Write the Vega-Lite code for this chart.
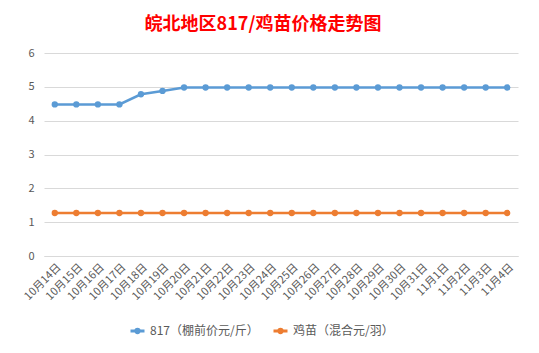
{
  "$schema": "https://vega.github.io/schema/vega-lite/v6.json",
  "autosize": {"type": "none"},
  "width": 474,
  "height": 203,
  "padding": {"left": 44, "top": 53, "right": 21, "bottom": 97},
  "background": "white",
  "config": {
    "font": "Noto Sans CJK SC",
    "view": {"stroke": null}
  },
  "title": {
    "text": "皖北地区817/鸡苗价格走势图",
    "color": "#ff0000",
    "fontSize": 18,
    "fontWeight": "bold",
    "font": "Noto Sans CJK SC",
    "anchor": "middle",
    "dx": -18,
    "offset": 13
  },
  "data": {
    "values": [
      {"date": "10月14日", "series": "817（棚前价元/斤）", "price": 4.48},
      {"date": "10月15日", "series": "817（棚前价元/斤）", "price": 4.48},
      {"date": "10月16日", "series": "817（棚前价元/斤）", "price": 4.48},
      {"date": "10月17日", "series": "817（棚前价元/斤）", "price": 4.48},
      {"date": "10月18日", "series": "817（棚前价元/斤）", "price": 4.78},
      {"date": "10月19日", "series": "817（棚前价元/斤）", "price": 4.88},
      {"date": "10月20日", "series": "817（棚前价元/斤）", "price": 4.98},
      {"date": "10月21日", "series": "817（棚前价元/斤）", "price": 4.98},
      {"date": "10月22日", "series": "817（棚前价元/斤）", "price": 4.98},
      {"date": "10月23日", "series": "817（棚前价元/斤）", "price": 4.98},
      {"date": "10月24日", "series": "817（棚前价元/斤）", "price": 4.98},
      {"date": "10月25日", "series": "817（棚前价元/斤）", "price": 4.98},
      {"date": "10月26日", "series": "817（棚前价元/斤）", "price": 4.98},
      {"date": "10月27日", "series": "817（棚前价元/斤）", "price": 4.98},
      {"date": "10月28日", "series": "817（棚前价元/斤）", "price": 4.98},
      {"date": "10月29日", "series": "817（棚前价元/斤）", "price": 4.98},
      {"date": "10月30日", "series": "817（棚前价元/斤）", "price": 4.98},
      {"date": "10月31日", "series": "817（棚前价元/斤）", "price": 4.98},
      {"date": "11月1日", "series": "817（棚前价元/斤）", "price": 4.98},
      {"date": "11月2日", "series": "817（棚前价元/斤）", "price": 4.98},
      {"date": "11月3日", "series": "817（棚前价元/斤）", "price": 4.98},
      {"date": "11月4日", "series": "817（棚前价元/斤）", "price": 4.98},
      {"date": "10月14日", "series": "鸡苗（混合元/羽）", "price": 1.27},
      {"date": "10月15日", "series": "鸡苗（混合元/羽）", "price": 1.27},
      {"date": "10月16日", "series": "鸡苗（混合元/羽）", "price": 1.27},
      {"date": "10月17日", "series": "鸡苗（混合元/羽）", "price": 1.27},
      {"date": "10月18日", "series": "鸡苗（混合元/羽）", "price": 1.27},
      {"date": "10月19日", "series": "鸡苗（混合元/羽）", "price": 1.27},
      {"date": "10月20日", "series": "鸡苗（混合元/羽）", "price": 1.27},
      {"date": "10月21日", "series": "鸡苗（混合元/羽）", "price": 1.27},
      {"date": "10月22日", "series": "鸡苗（混合元/羽）", "price": 1.27},
      {"date": "10月23日", "series": "鸡苗（混合元/羽）", "price": 1.27},
      {"date": "10月24日", "series": "鸡苗（混合元/羽）", "price": 1.27},
      {"date": "10月25日", "series": "鸡苗（混合元/羽）", "price": 1.27},
      {"date": "10月26日", "series": "鸡苗（混合元/羽）", "price": 1.27},
      {"date": "10月27日", "series": "鸡苗（混合元/羽）", "price": 1.27},
      {"date": "10月28日", "series": "鸡苗（混合元/羽）", "price": 1.27},
      {"date": "10月29日", "series": "鸡苗（混合元/羽）", "price": 1.27},
      {"date": "10月30日", "series": "鸡苗（混合元/羽）", "price": 1.27},
      {"date": "10月31日", "series": "鸡苗（混合元/羽）", "price": 1.27},
      {"date": "11月1日", "series": "鸡苗（混合元/羽）", "price": 1.27},
      {"date": "11月2日", "series": "鸡苗（混合元/羽）", "price": 1.27},
      {"date": "11月3日", "series": "鸡苗（混合元/羽）", "price": 1.27},
      {"date": "11月4日", "series": "鸡苗（混合元/羽）", "price": 1.27}
    ]
  },
  "mark": {
    "type": "line",
    "strokeWidth": 2.5,
    "point": {"filled": true, "size": 40, "opacity": 1}
  },
  "encoding": {
    "x": {
      "field": "date",
      "type": "ordinal",
      "sort": null,
      "scale": {"type": "point", "padding": 0.5},
      "axis": {
        "title": null,
        "labelAngle": -45,
        "labelFontSize": 11,
        "labelColor": "#595959",
        "domainColor": "#d9d9d9",
        "ticks": false,
        "labelPadding": 5,
        "grid": false
      }
    },
    "y": {
      "field": "price",
      "type": "quantitative",
      "scale": {"domain": [0, 6]},
      "axis": {
        "title": null,
        "values": [0, 1, 2, 3, 4, 5, 6],
        "labelOverlap": false,
        "domain": false,
        "ticks": false,
        "labelFontSize": 11,
        "labelColor": "#595959",
        "labelPadding": 10,
        "gridColor": "#d9d9d9"
      }
    },
    "color": {
      "field": "series",
      "type": "nominal",
      "scale": {
        "domain": ["817（棚前价元/斤）", "鸡苗（混合元/羽）"],
        "range": ["#5b9bd5", "#ed7d31"]
      },
      "legend": {
        "title": null,
        "orient": "none",
        "legendX": 85,
        "legendY": 269,
        "direction": "horizontal",
        "labelFontSize": 12,
        "labelColor": "#595959",
        "symbolType": "M-1,0H1M-0.25,0A0.25,0.25 0 1,0 0.25,0A0.25,0.25 0 1,0 -0.25,0",
        "symbolSize": 196,
        "symbolStrokeWidth": 3,
        "columnPadding": 8,
        "labelOffset": 4
      }
    }
  }
}
